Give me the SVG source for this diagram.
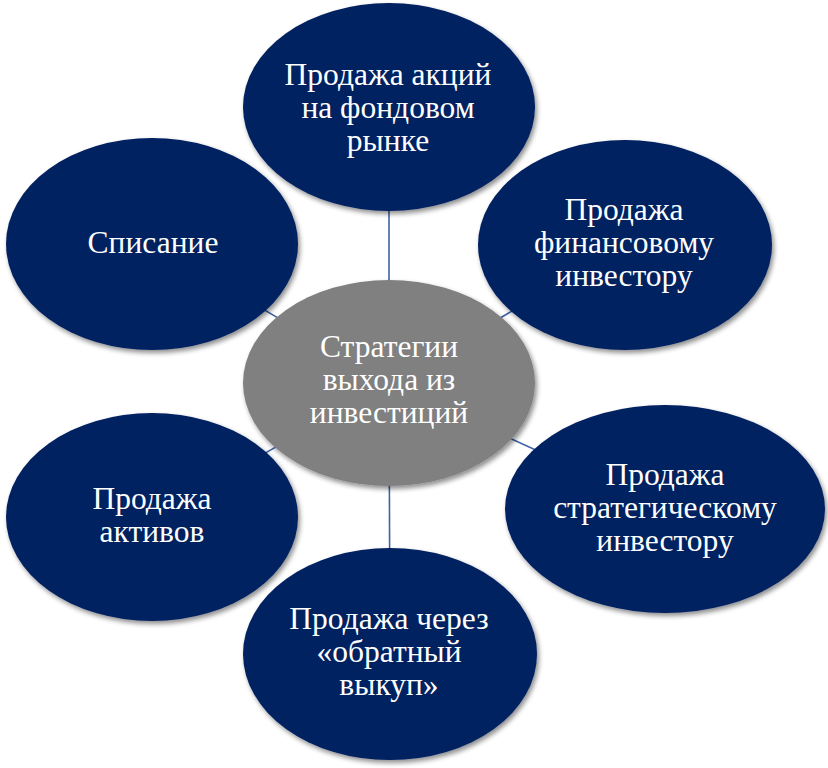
<svg xmlns="http://www.w3.org/2000/svg" width="828" height="768" viewBox="0 0 828 768">
<defs>
<filter id="sh" x="-10%" y="-10%" width="125%" height="130%">
<feGaussianBlur in="SourceAlpha" stdDeviation="2.5"/>
<feOffset dx="1.5" dy="3" result="b"/>
<feComponentTransfer><feFuncA type="linear" slope="0.45"/></feComponentTransfer>
<feMerge><feMergeNode/><feMergeNode in="SourceGraphic"/></feMerge>
</filter>
</defs>
<style>
.n{fill:#002060;filter:url(#sh)}
.c{fill:#808080;filter:url(#sh)}
.t{fill:#ffffff;font-size:31.5px;text-anchor:middle}
.e{stroke:#3f62a6;stroke-width:1.6;fill:none}
</style>
<rect width="828" height="768" fill="#ffffff"/>
<g id="connectors">
<line class="e" x1="389" y1="383" x2="389" y2="107"/>
<line class="e" x1="389" y1="383" x2="625" y2="245"/>
<line class="e" x1="389" y1="383" x2="665" y2="509"/>
<line class="e" x1="389" y1="383" x2="390" y2="654"/>
<line class="e" x1="389" y1="383" x2="152" y2="517"/>
<line class="e" x1="389" y1="383" x2="152" y2="244"/>
</g>
<g font-family="Liberation Serif, DejaVu Serif, serif">
<g id="center">
<ellipse class="c" cx="389" cy="383" rx="146" ry="103"/>
<text class="t" x="389" y="357">Стратегии</text>
<text class="t" x="389" y="390">выхода из</text>
<text class="t" x="389" y="423">инвестиций</text>
</g>
<g id="node-market">
<ellipse class="n" cx="389" cy="107" rx="146" ry="104"/>
<text class="t" x="388" y="85">Продажа акций</text>
<text class="t" x="388" y="118">на фондовом</text>
<text class="t" x="388" y="151">рынке</text>
</g>
<g id="node-financial">
<ellipse class="n" cx="625" cy="245" rx="147" ry="105"/>
<text class="t" x="624" y="220">Продажа</text>
<text class="t" x="624" y="253">финансовому</text>
<text class="t" x="624" y="286">инвестору</text>
</g>
<g id="node-strategic">
<ellipse class="n" cx="665" cy="509" rx="160" ry="104"/>
<text class="t" x="665" y="485">Продажа</text>
<text class="t" x="665" y="518">стратегическому</text>
<text class="t" x="665" y="551">инвестору</text>
</g>
<g id="node-buyback">
<ellipse class="n" cx="390" cy="654" rx="147" ry="106"/>
<text class="t" x="389" y="629">Продажа через</text>
<text class="t" x="389" y="662">«обратный</text>
<text class="t" x="389" y="695">выкуп»</text>
</g>
<g id="node-assets">
<ellipse class="n" cx="152" cy="517" rx="146" ry="104"/>
<text class="t" x="152" y="509">Продажа</text>
<text class="t" x="152" y="542">активов</text>
</g>
<g id="node-writeoff">
<ellipse class="n" cx="152" cy="244" rx="146" ry="106"/>
<text class="t" x="153" y="253">Списание</text>
</g>
</g>
</svg>
